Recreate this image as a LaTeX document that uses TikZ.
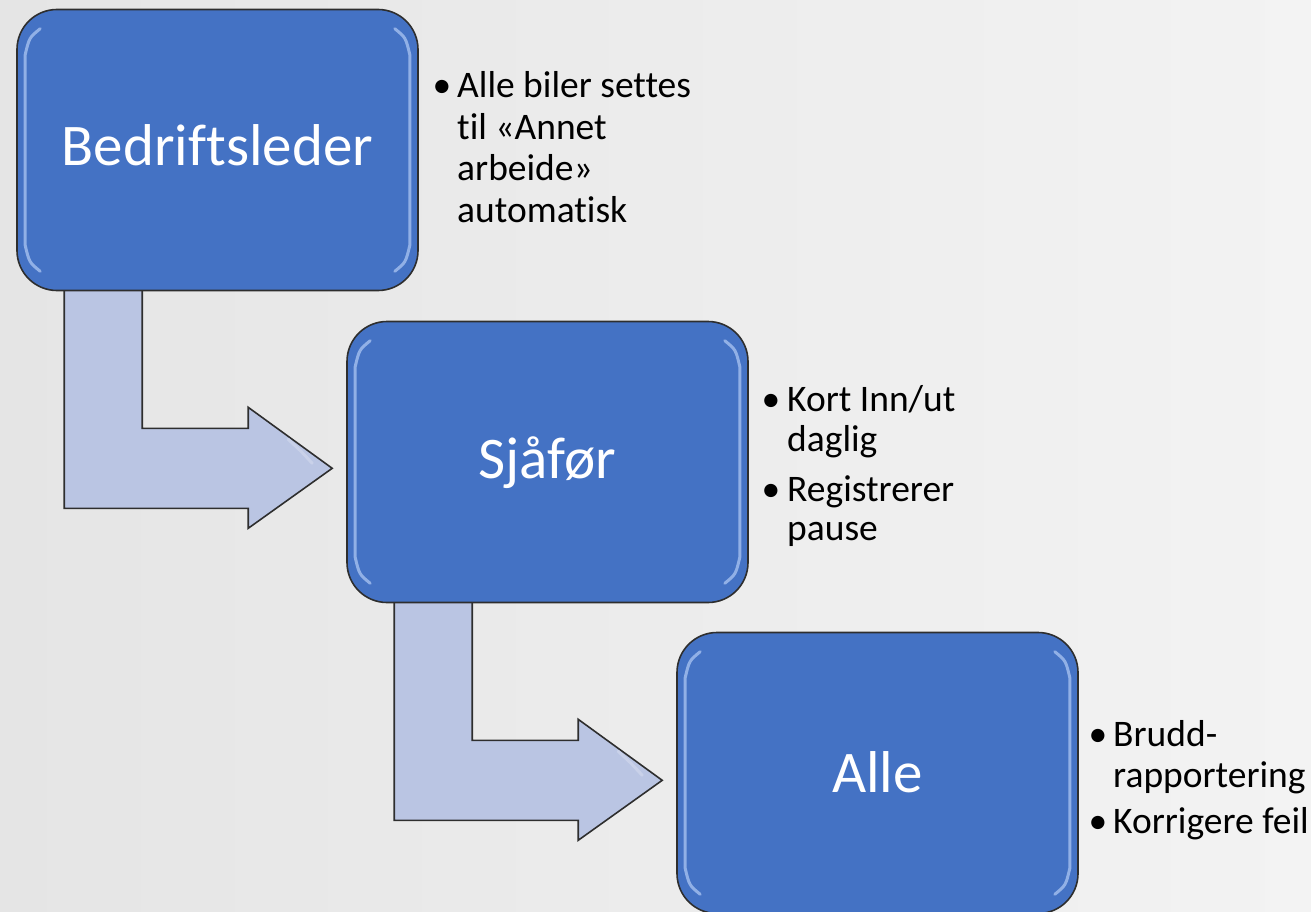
\documentclass[tikz,border=0pt]{standalone}
\usepackage{fontspec}
\setmainfont{Carlito}[Ligatures={NoCommon}]
\usetikzlibrary{calc}
\definecolor{boxblue}{HTML}{4472C4}
\definecolor{arrowfill}{HTML}{BAC5E3}
\definecolor{edge}{HTML}{2E2E2E}
\definecolor{bgL}{HTML}{E5E5E5}
\definecolor{bgR}{HTML}{F3F3F3}
\definecolor{hilite}{HTML}{B2CBF5}
\definecolor{arrowhl}{HTML}{D3DAEE}
\pgfdeclarelayer{bglayer}
\pgfdeclarelayer{arrowlayer}
\pgfsetlayers{bglayer,arrowlayer,main}
\tikzset{
  box/.style={rectangle, rounded corners=40pt, fill=boxblue, draw=edge, line width=1.6pt,
    minimum width=401pt, minimum height=281pt, inner sep=0pt},
  lbl/.style={anchor=base, inner sep=0pt, text=white, font=\fontsize{59}{70}\selectfont},
  bentarrow/.style={fill=arrowfill, draw=edge, line width=1.6pt, line join=miter},
  bline/.style={anchor=base west, inner sep=0pt, font=\fontsize{37.5}{45}\selectfont, text=black},
  bdot/.style={anchor=base, inner sep=0pt, font=\fontsize{37.5}{45}\selectfont, text=black},
  hl/.style={draw=hilite, line width=3pt, line cap=round, opacity=0.7},
  ahl/.style={draw=arrowhl, line width=3pt, line cap=round, opacity=0.8}
}
\newcommand{\bentshape}{(48,-6) -- (126,-6) -- (126,137) -- (232,137) -- (232,116) -- (316,177) -- (232,237) -- (232,217) -- (48,217) -- cycle}
\begin{document}
\begin{tikzpicture}[x=1pt,y=-1pt]
\begin{pgfonlayer}{bglayer}
  \shade[left color=bgL, right color=bgR] (0,0) rectangle (1311,912);
\end{pgfonlayer}
\useasboundingbox (0,0) rectangle (1311,912);

\node[box] (b1) at (217.5,150) {};
\node[box] (b2) at (547.5,462) {};
\node[box] (b3) at (877.5,773) {};

\node[lbl] (l1) at ($(b1.center)+(0,16)$) {Bedriftsleder};
\node[lbl] (l2) at ($(b2.center)+(0,16)$) {Sjåfør};
\node[lbl] (l3) at ($(b3.center)+(0,19)$) {Alle};

% bevel highlights
\foreach \b in {b1,b2,b3}{
  \draw[hl] ($(\b.north west)+(24,20)$) .. controls ($(\b.north west)+(13,29)$) .. ($(\b.north west)+(9,46)$)
     -- ($(\b.south west)+(9,-46)$) .. controls ($(\b.south west)+(13,-29)$) .. ($(\b.south west)+(24,-20)$);
  \draw[hl] ($(\b.north east)+(-24,20)$) .. controls ($(\b.north east)+(-13,29)$) .. ($(\b.north east)+(-9,46)$)
     -- ($(\b.south east)+(-9,-46)$) .. controls ($(\b.south east)+(-13,-29)$) .. ($(\b.south east)+(-24,-20)$);
}

\begin{pgfonlayer}{arrowlayer}
  \foreach \b in {b1,b2}{
    \begin{scope}[shift={(\b.south west)}]
      \draw[bentarrow] \bentshape;
      \draw[ahl, opacity=0.6] (272,148) .. controls (285,160) .. (296,172);
    \end{scope}
  }
\end{pgfonlayer}

% bullets for box 1
\node[bdot] (d11) at (442,98) {•};
\node[bline] (t11) at (457,98) {Alle biler settes};
\node[bline] (t12) at (457,139.5) {til «Annet};
\node[bline] (t13) at (457,181) {arbeide»};
\node[bline] (t14) at (457,222.5) {automatisk};

% bullets for box 2
\node[bdot] (d21) at (771,411) {•};
\node[bline] (t21) at (787,411) {Kort Inn/ut};
\node[bline] (t22) at (787,451) {daglig};
\node[bdot] (d22) at (771,501) {•};
\node[bline] (t23) at (787,501) {Registrerer};
\node[bline] (t24) at (787,540) {pause};

% bullets for box 3
\node[bdot] (d31) at (1098,746) {•};
\node[bline] (t31) at (1113,746) {Brudd-};
\node[bline] (t32) at (1113,787) {rapportering};
\node[bdot] (d32) at (1098,833) {•};
\node[bline] (t33) at (1113,833) {Korrigere feil};
\end{tikzpicture}
\end{document}
